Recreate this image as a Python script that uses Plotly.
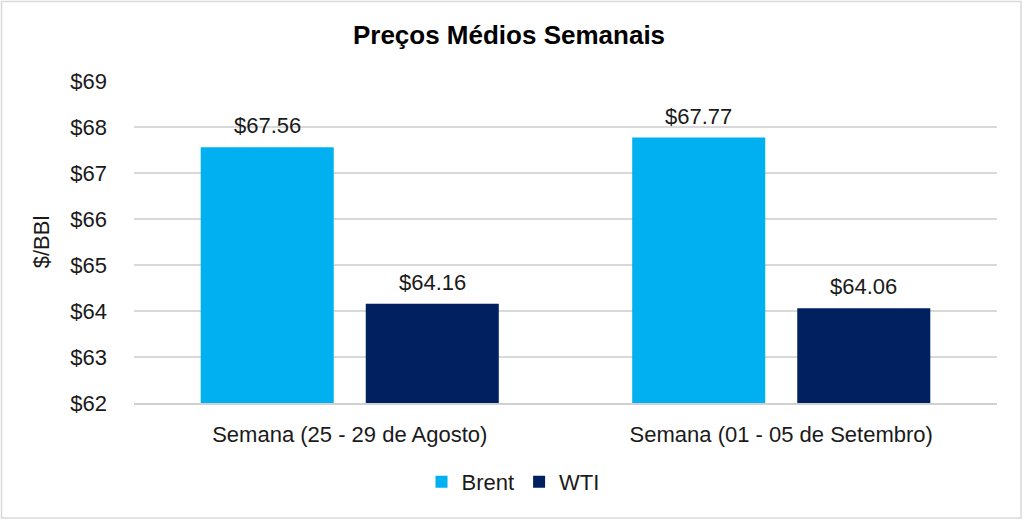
import plotly.graph_objects as go

# data
weeks = ["Semana (25 - 29 de Agosto)", "Semana (01 - 05 de Setembro)"]
brent = [67.56, 67.77]
wti = [64.16, 64.06]
y_ticks = [62, 63, 64, 65, 66, 67, 68, 69]

W, H = 1024, 523
L, R, T, B = 134, 27, 81, 120
FONT = "Liberation Sans, Arial, sans-serif"

fig = go.Figure()
fig.add_trace(go.Bar(name="Brent", x=weeks, y=brent, marker_color="#00B0F0",
                     marker_line_width=0))
fig.add_trace(go.Bar(name="WTI", x=weeks, y=wti, marker_color="#002060",
                     marker_line_width=0))

# value labels above bars
for i, w in enumerate(weeks):
    for off, vals in [(-1, brent), (1, wti)]:
        fig.add_annotation(x=w, y=vals[i], text="$" + format(vals[i], ".2f"),
                           xref="x", yref="y", showarrow=False,
                           xshift=off * 82.5, yanchor="bottom", yshift=7,
                           font={"size": 22, "color": "#1a1a1a", "family": FONT})

pw = W - L - R
ph = H - T - B
# outer border of the chart
fig.add_shape(type="rect", xref="paper", yref="paper",
              x0=-(L - 1.5) / pw, x1=1 + (R - 3) / pw,
              y0=-(B - 5) / ph, y1=1 + (T - 1.5) / ph,
              line={"color": "#D9D9D9", "width": 1.5}, layer="below")

fig.update_layout(
    width=W, height=H,
    margin={"l": L, "r": R, "t": T, "b": B},
    paper_bgcolor="white", plot_bgcolor="white",
    barmode="group", bargap=0.235, bargroupgap=0.194,
    font={"family": FONT, "size": 22, "color": "#1a1a1a"},
    title={"text": "<b>Preços Médios Semanais</b>", "x": 509 / W, "xref": "container",
           "y": 1 - 35 / H, "yanchor": "middle",
           "font": {"size": 26, "color": "#000000"}},
    showlegend=True,
    legend={"orientation": "h", "x": (513 - L) / pw, "xanchor": "center",
            "y": -79 / ph, "yanchor": "middle",
            "font": {"size": 22}, "itemwidth": 30, "traceorder": "normal"},
)
fig.update_xaxes(showgrid=False, showline=True, linecolor="#D0D0D0", linewidth=1.5,
                 ticks="", ticklabelstandoff=11, tickfont={"size": 22})
fig.update_yaxes(range=[62, 69], tickvals=y_ticks,
                 ticktext=["$" + str(v) for v in y_ticks],
                 showgrid=True, gridcolor="#D9D9D9", gridwidth=1.5,
                 zeroline=False, ticks="", ticklabelstandoff=26, automargin=False,
                 tickfont={"size": 22},
                 title={"text": "$/BBl", "standoff": 14, "font": {"size": 22}})

fig.write_html("out.html", config={"displayModeBar": False},
               post_script="document.body.style.margin='0';")
